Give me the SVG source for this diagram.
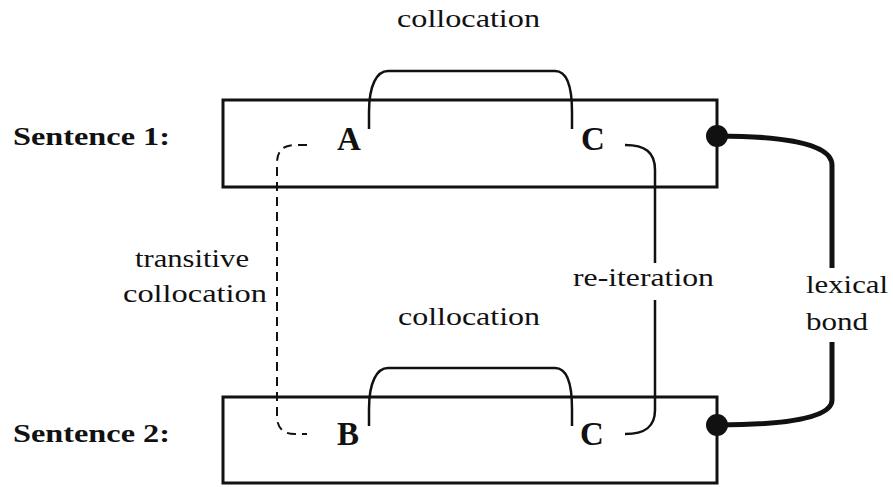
<svg xmlns="http://www.w3.org/2000/svg" width="893" height="487" viewBox="0 0 893 487">
<style>
  .box { fill: #fff; stroke: #111; stroke-width: 3; }
  .lbl { font-family: 'Liberation Serif', 'Times New Roman', Times, serif; font-size: 26px; fill: #111; }
  .sent { font-family: 'Liberation Serif', 'Times New Roman', Times, serif; font-size: 26px; font-weight: bold; fill: #111; }
  .word { font-family: 'Liberation Serif', 'Times New Roman', Times, serif; font-size: 33px; font-weight: bold; fill: #111; }
  .line { fill: none; stroke: #111; stroke-width: 2.5; }
  .dash { fill: none; stroke: #111; stroke-width: 2; stroke-dasharray: 9 6; }
  .bond { fill: none; stroke: #111; stroke-width: 5; }
</style>
<rect width="893" height="487" fill="#fff"/>
<g id="sentence1">
  <rect class="box" x="223" y="100" width="494" height="87"/>
  <text class="sent" x="13" y="145" textLength="157" lengthAdjust="spacingAndGlyphs">Sentence 1:</text>
  <text class="word" x="337" y="150">A</text>
  <text class="word" x="581" y="150">C</text>
</g>
<g id="sentence2">
  <rect class="box" x="223" y="397" width="494" height="86"/>
  <text class="sent" x="13" y="442" textLength="157" lengthAdjust="spacingAndGlyphs">Sentence 2:</text>
  <text class="word" x="337" y="445">B</text>
  <text class="word" x="580" y="445">C</text>
</g>
<g id="connectors">
  <path class="line" d="M369,129 V112 C369,85 377,71 388,71 H555 C566,71 572,85 572,112 V129"/>
  <path class="line" d="M369,426 V409 C369,382 377,368 388,368 H555 C566,368 572,382 572,409 V426"/>
  <path class="dash" d="M307,145 H295 Q277,145 277,163 V416 Q277,434 295,434 H307"/>
  <path class="line" d="M625,145 C645,145 655,152 655,170 V263 M655,300 V410 C655,427 645,434 625,434"/>
  <path class="bond" d="M717,136 C775,136 832,142 832,165 V268 M832,342 V400 C832,420 775,425 717,425"/>
  <circle cx="717" cy="136" r="11" fill="#111"/>
  <circle cx="717" cy="425" r="11" fill="#111"/>
</g>
<g id="labels">
  <text class="lbl" x="397" y="27" textLength="143" lengthAdjust="spacingAndGlyphs">collocation</text>
  <text class="lbl" x="398" y="325" textLength="142" lengthAdjust="spacingAndGlyphs">collocation</text>
  <text class="lbl" x="135" y="267" textLength="114" lengthAdjust="spacingAndGlyphs">transitive</text>
  <text class="lbl" x="123" y="302" textLength="144" lengthAdjust="spacingAndGlyphs">collocation</text>
  <text class="lbl" x="573" y="286" textLength="141" lengthAdjust="spacingAndGlyphs">re-iteration</text>
  <text class="lbl" x="806" y="293" textLength="82" lengthAdjust="spacingAndGlyphs">lexical</text>
  <text class="lbl" x="806" y="330" textLength="62" lengthAdjust="spacingAndGlyphs">bond</text>
</g>
</svg>
